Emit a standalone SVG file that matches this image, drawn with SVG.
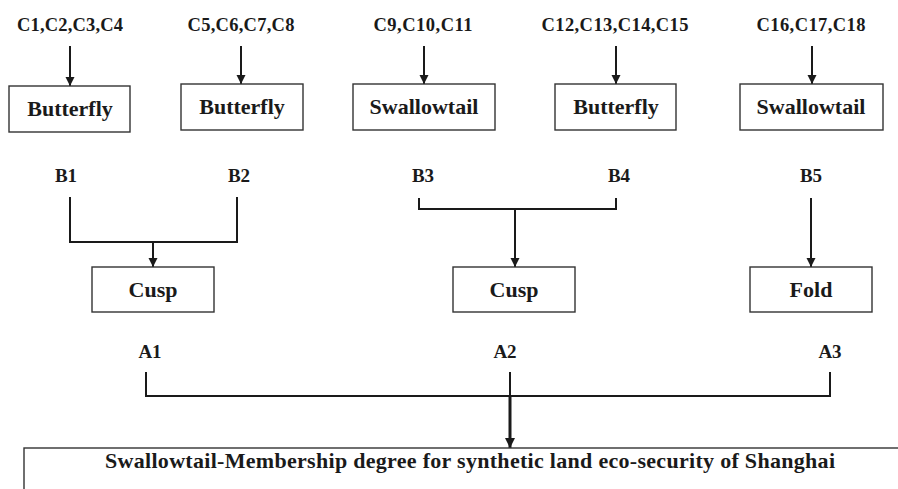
<svg xmlns="http://www.w3.org/2000/svg" width="898" height="489" viewBox="0 0 898 489">
<style>
text{font-family:"Liberation Serif","Times New Roman",serif;font-weight:bold;fill:#1a1a1a;text-anchor:middle}
.lbl{font-size:18.5px}
.bl{font-size:19px}
.bx{font-size:22px}
.ttl{font-size:22px}
.box{fill:#fff;stroke:#333;stroke-width:1.4}
.ln{fill:none;stroke:#1a1a1a;stroke-width:2}
.thick{fill:none;stroke:#1a1a1a;stroke-width:3}
</style>
<defs>
<marker id="ah" viewBox="0 0 10 10" refX="10" refY="5" markerWidth="4.5" markerHeight="5" markerUnits="strokeWidth" orient="auto">
<path d="M0,0 L10,5 L0,10 Z" fill="#1a1a1a"/>
</marker>
<marker id="ah2" viewBox="0 0 10 10" refX="10" refY="5" markerWidth="3.4" markerHeight="3.6" markerUnits="strokeWidth" orient="auto">
<path d="M0,0 L10,5 L0,10 Z" fill="#1a1a1a"/>
</marker>
</defs>
<g id="labels-c">
<text class="lbl" x="70" y="31" textLength="106">C1,C2,C3,C4</text>
<text class="lbl" x="241" y="31" textLength="107">C5,C6,C7,C8</text>
<text class="lbl" x="423" y="31" textLength="99">C9,C10,C11</text>
<text class="lbl" x="615" y="31" textLength="147">C12,C13,C14,C15</text>
<text class="lbl" x="811" y="31" textLength="109">C16,C17,C18</text>
</g>
<g id="connectors">
<line class="ln" x1="70" y1="46" x2="70" y2="86" marker-end="url(#ah)"/>
<line class="ln" x1="241" y1="46" x2="241" y2="84" marker-end="url(#ah)"/>
<line class="ln" x1="424" y1="46" x2="424" y2="84" marker-end="url(#ah)"/>
<line class="ln" x1="616" y1="46" x2="616" y2="84" marker-end="url(#ah)"/>
<line class="ln" x1="812" y1="46" x2="812" y2="84" marker-end="url(#ah)"/>
<polyline class="ln" points="70,197 70,242 237,242 237,197"/>
<line class="ln" x1="153" y1="242" x2="153" y2="267" marker-end="url(#ah)"/>
<polyline class="ln" points="419,198 419,209 616,209 616,198"/>
<line class="ln" x1="515" y1="209" x2="515" y2="267" marker-end="url(#ah)"/>
<line class="ln" x1="811" y1="198" x2="811" y2="267" marker-end="url(#ah)"/>
<polyline class="ln" points="146,372 146,396 830,396 830,372"/>
<line class="ln" x1="510" y1="372" x2="510" y2="396"/>
<line class="thick" x1="510" y1="396" x2="510" y2="448" marker-end="url(#ah2)"/>
</g>
<g id="node-butterfly-1"><rect class="box" x="9" y="86" width="121" height="46"/><text class="bx" x="70" y="116">Butterfly</text></g>
<g id="node-butterfly-2"><rect class="box" x="181" y="84" width="122" height="46"/><text class="bx" x="242" y="114">Butterfly</text></g>
<g id="node-swallowtail-1"><rect class="box" x="353" y="84" width="142" height="46"/><text class="bx" x="424" y="114">Swallowtail</text></g>
<g id="node-butterfly-3"><rect class="box" x="555" y="84" width="121" height="46"/><text class="bx" x="616" y="114">Butterfly</text></g>
<g id="node-swallowtail-2"><rect class="box" x="740" y="84" width="143" height="46"/><text class="bx" x="811" y="114">Swallowtail</text></g>
<g id="labels-b">
<text class="bl" x="66" y="182">B1</text>
<text class="bl" x="239" y="182">B2</text>
<text class="bl" x="423" y="182">B3</text>
<text class="bl" x="619" y="182">B4</text>
<text class="bl" x="811" y="182">B5</text>
</g>
<g id="node-cusp-1"><rect class="box" x="92" y="267" width="122" height="45"/><text class="bx" x="153" y="297">Cusp</text></g>
<g id="node-cusp-2"><rect class="box" x="453" y="267" width="122" height="45"/><text class="bx" x="514" y="297">Cusp</text></g>
<g id="node-fold"><rect class="box" x="750" y="267" width="122" height="45"/><text class="bx" x="811" y="297">Fold</text></g>
<g id="labels-a">
<text class="bl" x="150" y="358">A1</text>
<text class="bl" x="505" y="358">A2</text>
<text class="bl" x="830" y="358">A3</text>
</g>
<g id="node-result"><rect class="box" x="24" y="448" width="900" height="60"/><text class="ttl" x="470" y="468" textLength="730">Swallowtail-Membership degree for synthetic land eco-security of Shanghai</text></g>
</svg>
